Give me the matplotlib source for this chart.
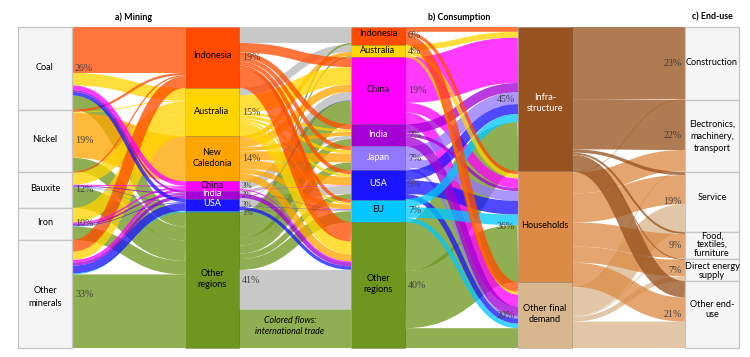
import matplotlib
matplotlib.use("Agg")
import matplotlib.pyplot as plt
from matplotlib.patches import PathPatch, Rectangle
from matplotlib.path import Path

plt.rcParams["font.family"] = ["Lato", "DejaVu Sans"]

# node names per column
materials = ["Coal", "Nickel", "Bauxite", "Iron", "Other minerals"]
mining_regions = ["Indonesia", "Australia", "New Caledonia", "China", "India", "USA", "EU", "Other regions"]
cons_regions = ["Indonesia", "Australia", "China", "India", "Japan", "USA", "EU", "Other regions"]
final_demand = ["Infrastructure", "Households", "Other final demand"]
end_uses = ["Construction", "Electronics", "Service", "Food", "Direct", "Other end-use"]

# flows in % of the total
material_flows = [
    ("Coal", "Indonesia", 14.3), ("Coal", "Australia", 3.9), ("Coal", "China", 1.4), ("Coal", "India", 0.6),
    ("Coal", "USA", 1.1), ("Coal", "Other regions", 4.4),
    ("Nickel", "Indonesia", 0.7), ("Nickel", "Australia", 0.3), ("Nickel", "New Caledonia", 14.0),
    ("Nickel", "Other regions", 4.3),
    ("Bauxite", "Indonesia", 0.4), ("Bauxite", "Australia", 3.7), ("Bauxite", "China", 0.3), ("Bauxite", "India", 0.3),
    ("Bauxite", "USA", 0.1), ("Bauxite", "EU", 0.1), ("Bauxite", "Other regions", 6.4),
    ("Iron", "Australia", 4.5), ("Iron", "China", 0.5), ("Iron", "India", 0.5), ("Iron", "USA", 0.2),
    ("Iron", "EU", 0.1), ("Iron", "Other regions", 4.2),
    ("Other minerals", "Indonesia", 3.6), ("Other minerals", "Australia", 2.6), ("Other minerals", "China", 0.8),
    ("Other minerals", "India", 1.0), ("Other minerals", "USA", 2.4), ("Other minerals", "EU", 0.3),
    ("Other minerals", "Other regions", 22.9),
]
domestic_flows = [
    ("Indonesia", "Indonesia", 5.0), ("Australia", "Australia", 2.3), ("China", "China", 2.6),
    ("India", "India", 1.0), ("USA", "USA", 2.6), ("EU", "EU", 0.4), ("Other regions", "Other regions", 12.4),
]
trade_flows = [
    ("Indonesia", "China", 3.0), ("Indonesia", "India", 1.6), ("Indonesia", "Japan", 1.2), ("Indonesia", "USA", 1.2),
    ("Indonesia", "EU", 1.0), ("Indonesia", "Other regions", 6.0),
    ("Australia", "China", 5.5), ("Australia", "India", 0.8), ("Australia", "Japan", 1.0), ("Australia", "USA", 0.8),
    ("Australia", "EU", 0.6), ("Australia", "Other regions", 4.0),
    ("New Caledonia", "Australia", 1.3), ("New Caledonia", "China", 2.3), ("New Caledonia", "India", 1.2),
    ("New Caledonia", "Japan", 2.8), ("New Caledonia", "USA", 2.7), ("New Caledonia", "EU", 1.5),
    ("New Caledonia", "Other regions", 2.2),
    ("China", "USA", 0.1), ("China", "Other regions", 0.3), ("India", "EU", 0.1), ("India", "Other regions", 1.3),
    ("USA", "China", 0.1), ("USA", "EU", 0.1), ("USA", "Other regions", 1.0), ("EU", "Other regions", 0.1),
    ("Other regions", "Indonesia", 0.5), ("Other regions", "Australia", 0.4), ("Other regions", "China", 7.4),
    ("Other regions", "India", 2.3), ("Other regions", "Japan", 2.5), ("Other regions", "USA", 1.7),
    ("Other regions", "EU", 3.4), ("Other regions", "Other regions", 12.0),
]
demand_flows = [
    ("Indonesia", "Infrastructure", 1.5), ("Indonesia", "Households", 1.0), ("Indonesia", "Other final demand", 3.0),
    ("Australia", "Infrastructure", 1.8), ("Australia", "Households", 1.3), ("Australia", "Other final demand", 0.9),
    ("China", "Infrastructure", 14.2), ("China", "Households", 3.0), ("China", "Other final demand", 3.7),
    ("India", "Infrastructure", 2.9), ("India", "Households", 1.0), ("India", "Other final demand", 3.0),
    ("Japan", "Infrastructure", 3.7), ("Japan", "Households", 3.0), ("Japan", "Other final demand", 0.8),
    ("USA", "Infrastructure", 3.1), ("USA", "Households", 4.3), ("USA", "Other final demand", 1.6),
    ("EU", "Infrastructure", 2.5), ("EU", "Households", 3.3), ("EU", "Other final demand", 1.4),
    ("Other regions", "Infrastructure", 15.3), ("Other regions", "Households", 17.8),
    ("Other regions", "Other final demand", 6.2),
]
use_flows = [
    ("Infrastructure", "Construction", 22.4), ("Infrastructure", "Electronics", 15.6), ("Infrastructure", "Service", 1.0),
    ("Infrastructure", "Food", 0.6), ("Infrastructure", "Direct", 0.3), ("Infrastructure", "Other end-use", 5.1),
    ("Households", "Construction", 0.2), ("Households", "Electronics", 6.5), ("Households", "Service", 9.0),
    ("Households", "Food", 7.5), ("Households", "Direct", 5.0), ("Households", "Other end-use", 7.5),
    ("Other final demand", "Electronics", 0.3), ("Other final demand", "Service", 8.7), ("Other final demand", "Food", 0.3),
    ("Other final demand", "Direct", 1.5), ("Other final demand", "Other end-use", 8.2),
]

# printed labels
material_labels = ["Coal", "Nickel", "Bauxite", "Iron", "Other\nminerals"]
mining_labels = ["Indonesia", "Australia", "New\nCaledonia", "China", "India", "USA", "", "Other\nregions"]
cons_labels = ["Indonesia", "Australia", "China", "India", "Japan", "USA", "EU", "Other\nregions"]
demand_labels = ["Infra-\nstructure", "Households", "Other final\ndemand"]
use_labels = ["Construction", "Electronics,\nmachinery,\ntransport", "Service", "Food,\ntextiles,\nfurniture",
              "Direct energy\nsupply", "Other end-\nuse"]
material_pct = ["26%", "19%", "12%", "10%", "33%"]
mining_pct = ["19%", "15%", "14%", "3%", "2%", "3%", "1%", "41%"]
cons_pct = ["6%", "4%", "19%", "7%", "7%", "9%", "7%", "40%"]
demand_pct = ["45%", "36%", "20%"]
use_pct = ["23%", "22%", "19%", "9%", "7%", "21%"]

colors = {
    "Indonesia": "#ff4b00", "Australia": "#ffd500", "New Caledonia": "#ffa500", "China": "#ff00ff",
    "India": "#a400d6", "Japan": "#9278ff", "USA": "#1a14ff", "EU": "#00c8ff", "Other regions": "#6f961e",
    "Infrastructure": "#98521f", "Households": "#dc8a45", "Other final demand": "#d8b78e",
}
white_text = ["India", "Japan", "USA", "Infra-\nstructure"]
# small nudges for the labels that do not sit in the middle of their box
label_shift = {"Other\nminerals": 4, "Infra-\nstructure": 5, "Service": -3, "Other end-\nuse": -4, "Indonesia": -1,
               "Electronics,\nmachinery,\ntransport": 1.5, "Direct energy\nsupply": 2}
label_spacing = {"Food,\ntextiles,\nfurniture": 0.95, "Direct energy\nsupply": 1.1,
                 "Electronics,\nmachinery,\ntransport": 1.45, "Other\nminerals": 1.45, "Infra-\nstructure": 1.4}

top = 27
height = 321
col_x = [18, 185, 351, 518, 685]
col_w = 54


def positions(flows, left, right):
    # stack every flow on both sides, returns y ranges
    scale = height / sum(f[2] for f in flows)
    out = {}
    for names, side, other in ((left, 0, right), (right, 1, left)):
        order = sorted(range(len(flows)), key=lambda i: (names.index(flows[i][side]), other.index(flows[i][1 - side]), i))
        y = top
        for i in order:
            out[(i, side)] = (y, y + flows[i][2] * scale)
            y += flows[i][2] * scale
    return out


def node_rows(flows, names, side):
    scale = height / sum(f[2] for f in flows)
    rows = []
    y = top
    for n in names:
        h = sum(f[2] for f in flows if f[side] == n) * scale
        rows.append((n, y, h))
        y += h
    return rows


def ribbon(ax, x0, x1, a, b, color, alpha=0.77):
    # stroked centre line, so the band keeps its width in the steep part
    xm = (x0 + x1) / 2
    y0 = (a[0] + a[1]) / 2
    y1 = (b[0] + b[1]) / 2
    verts = [(x0, y0), (xm, y0), (xm, y1), (x1, y1)]
    codes = [Path.MOVETO, Path.CURVE4, Path.CURVE4, Path.CURVE4]
    ax.add_patch(PathPatch(Path(verts, codes), facecolor="none", edgecolor=color, alpha=alpha,
                           lw=(a[1] - a[0]) * 0.72, capstyle="butt"))


def draw_stage(ax, flows, left, right, col, color_of, draw_rank):
    pos = positions(flows, left, right)
    x0 = col_x[col] + col_w
    x1 = col_x[col + 1]
    for i in sorted(range(len(flows)), key=lambda k: draw_rank(flows[k], k)):
        ribbon(ax, x0, x1, pos[(i, 0)], pos[(i, 1)], color_of(flows[i], i))


def draw_nodes(ax, rows, col, labels, pcts, pct_side):
    x = col_x[col]
    for (n, y, h), lab, pct in zip(rows, labels, pcts):
        if n in colors:
            ax.add_patch(Rectangle((x, y), col_w, h, facecolor=colors[n], edgecolor="#00000030", lw=0.6, zorder=5))
        else:
            ax.add_patch(Rectangle((x, y), col_w, h, facecolor="#f5f5f5", edgecolor="#c4c4c4", lw=0.9, zorder=5))
        tc = "white" if lab in white_text else "black"
        ax.text(x + col_w / 2, y + h / 2 - 1 + label_shift.get(lab, 0), lab, ha="center", va="center",
                fontsize=6.6, color=tc, zorder=6, linespacing=label_spacing.get(lab, 1.25))
        size = 7.2 if h > 12.5 else 5.8
        if pct_side == "right":
            ax.text(x + col_w + 3, y + h / 2 + (1.5 if h < 3 else 0), pct, ha="left", va="center", fontsize=size,
                    family="Liberation Serif", color="#404040", zorder=7)
        else:
            ax.text(x - 3, y + h / 2, pct, ha="right", va="center", fontsize=size, family="Liberation Serif",
                    color="#404040", zorder=7)


fig = plt.figure(figsize=(7.5, 3.57), dpi=100)
ax = fig.add_axes([0, 0, 1, 1])
ax.set_xlim(0, 750)
ax.set_ylim(357, 0)
ax.axis("off")

# stage 1, coloured by the mining region
rank1 = ["Other regions", "New Caledonia", "Australia", "Indonesia", "EU", "China", "India", "USA"]
draw_stage(ax, material_flows, materials, mining_regions, 0, lambda f, i: colors[f[1]],
           lambda f, k: rank1.index(f[1]))

# stage 2, grey is domestic
flows2 = domestic_flows + trade_flows
rank2 = ["Other regions", "New Caledonia", "Australia", "Indonesia", "EU", "China", "India", "USA"]
n_dom = len(domestic_flows)
draw_stage(ax, flows2, mining_regions, cons_regions, 1,
           lambda f, i: "#b8b8b8" if i < n_dom else colors[f[0]],
           lambda f, k: (0 if k < n_dom else 1, rank2.index(f[0])))

# stage 3 and 4, coloured by source
rank3 = ["Other regions", "China", "Japan", "USA", "India", "EU", "Australia", "Indonesia"]
draw_stage(ax, demand_flows, cons_regions, final_demand, 2, lambda f, i: colors[f[0]],
           lambda f, k: rank3.index(f[0]))
draw_stage(ax, use_flows, final_demand, end_uses, 3, lambda f, i: colors[f[0]],
           lambda f, k: -final_demand.index(f[0]))

draw_nodes(ax, node_rows(material_flows, materials, 0), 0, material_labels, material_pct, "right")
draw_nodes(ax, node_rows(material_flows, mining_regions, 1), 1, mining_labels, mining_pct, "right")
draw_nodes(ax, node_rows(flows2, cons_regions, 1), 2, cons_labels, cons_pct, "right")
draw_nodes(ax, node_rows(demand_flows, final_demand, 1), 3, demand_labels, demand_pct, "left")
draw_nodes(ax, node_rows(use_flows, end_uses, 1), 4, use_labels, use_pct, "left")

ax.text(134, 17, "a) Mining", ha="center", va="center", fontsize=6.4, fontweight="bold")
ax.text(459, 17, "b) Consumption", ha="center", va="center", fontsize=6.4, fontweight="bold")
ax.text(712, 17, "c) End-use", ha="center", va="center", fontsize=6.4, fontweight="bold")
ax.text(290, 326, "Colored flows:\ninternational trade", ha="center", va="center", fontsize=6.4, style="italic",
        linespacing=1.3, zorder=8)

fig.savefig("out.png", dpi=100)
